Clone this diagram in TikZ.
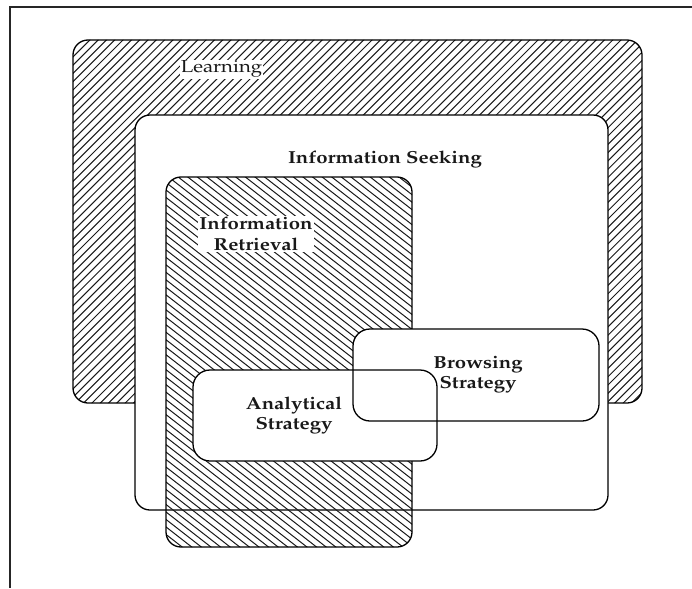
\documentclass[tikz,border=0pt]{standalone}
\usepackage[T1]{fontenc}
\usepackage{mathpazo}
\usepackage{graphicx}

% labels: wide book face, slightly stretched
\newcommand{\lbl}[1]{\scalebox{1.17}[1]{#1}}

\tikzset{
  frameline/.style={line width=1.4pt, black!85},
  box/.style={draw=black, line width=1.3pt, rounded corners=15pt, inner sep=0pt, outer sep=0pt},
  hatchline/.style={line width=1.0pt, black!90},
  plainlbl/.style={font=\fontsize{17.4}{20.5}\selectfont, inner sep=1.5pt, text=black!90},
  boldlbl/.style={plainlbl, font=\fontsize{17.4}{20.5}\selectfont\bfseries, align=center},
}

\begin{document}
\begin{tikzpicture}[x=1pt, y=-1pt]
  \useasboundingbox (0,0) rectangle (692,588);

  % page frame (top and left rules)
  \coordinate (ftr) at (692,7);
  \coordinate (ftl) at (10,7);
  \coordinate (fbl) at (10,588);
  \draw[frameline] (ftr) -- (ftl) -- (fbl);

  % Learning: rising hatch
  \node[box, draw=none, minimum width=569pt, minimum height=363pt] (learn) at (357.5,221.5) {};
  \begin{scope}
    \clip[rounded corners=15pt] (learn.south west) rectangle (learn.north east);
    \foreach \k in {0,...,125}
      \draw[hatchline] (-330+\k*8.3, 410) -- ++(420,-420);
  \end{scope}
  \draw[box] (learn.south west) rectangle (learn.north east);

  % Information Seeking
  \node[box, fill=white, minimum width=473pt, minimum height=395pt] (seek) at (371.5,312.5) {};

  % Information Retrieval: falling hatch
  \node[box, draw=none, minimum width=246pt, minimum height=370pt] (retr) at (289,362) {};
  \begin{scope}
    \clip[rounded corners=15pt] (retr.south west) rectangle (retr.north east);
    \foreach \k in {0,...,80}
      \draw[hatchline] (-330+\k*9.6, 170) -- ++(500,390);
  \end{scope}
  \draw[box] (retr.south west) rectangle (retr.north east);

  % the two strategies overlap; fill both, then outline both
  \node[box, draw=none, fill=white, rounded corners=17pt, minimum width=244pt, minimum height=91pt] (ana) at (315,415.5) {};
  \node[box, draw=none, fill=white, rounded corners=17pt, minimum width=246pt, minimum height=92pt] (brow) at (476,375) {};
  \draw[box, rounded corners=17pt] (ana.north west) rectangle (ana.south east);
  \draw[box, rounded corners=17pt] (brow.north west) rectangle (brow.south east);

  % labels
  \node[plainlbl, fill=white, inner sep=1pt, anchor=base] (learnlbl) at (221.5,73) {\lbl{Learning}};
  \node[boldlbl, anchor=base] (seeklbl) at (385,163) {\lbl{Information Seeking}};
  \node[boldlbl, fill=white, inner sep=1.5pt] (retrlbl) at (256,234) {\lbl{Information}\\\lbl{Retrieval}};
  \node[boldlbl] (analbl) at (294,415.5) {\lbl{Analytical}\\\lbl{Strategy}};
  \node[boldlbl] (browlbl) at (478,374.5) {\lbl{Browsing}\\\lbl{Strategy}};
\end{tikzpicture}
\end{document}
